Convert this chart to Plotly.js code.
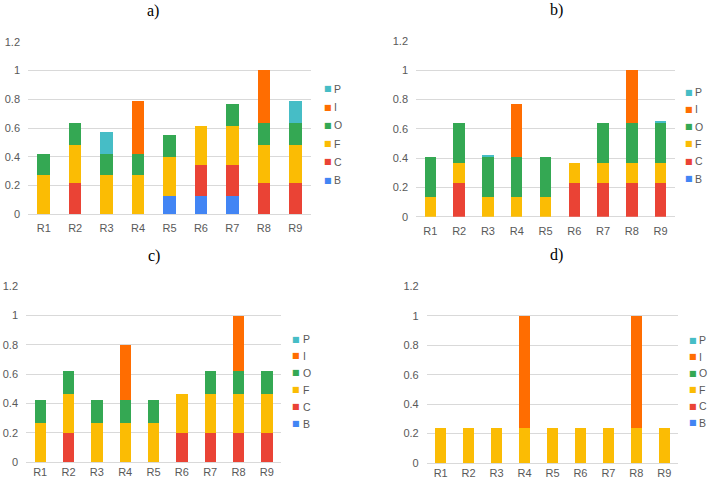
<!DOCTYPE html>
<html>
<head>
<meta charset="utf-8">
<script src="https://cdn.plot.ly/plotly-3.0.1.min.js"></script>
<style>html,body{margin:0;padding:0;background:#fff;}#chart{width:708px;height:481px;}</style>
</head>
<body>
<div id="chart"></div>
<script>
// ---- data ----
const categories = ['R1','R2','R3','R4','R5','R6','R7','R8','R9'];
const seriesNames = ['B','C','F','O','I','P'];
const panelTitles = ['a)','b)','c)','d)'];
const yTickVals = [0,0.2,0.4,0.6,0.8,1,1.2];

// panel a
const a_B = [0,0,0,0,0.13,0.13,0.13,0,0];
const a_C = [0,0.215,0,0,0,0.215,0.215,0.215,0.215];
const a_F = [0.27,0.27,0.27,0.27,0.27,0.27,0.27,0.27,0.27];
const a_O = [0.15,0.15,0.15,0.15,0.15,0,0.15,0.15,0.15];
const a_I = [0,0,0,0.365,0,0,0,0.365,0];
const a_P = [0,0,0.155,0,0,0,0,0,0.155];
// panel b
const b_B = [0,0,0,0,0,0,0,0,0];
const b_C = [0,0.23,0,0,0,0.23,0.23,0.23,0.23];
const b_F = [0.137,0.137,0.137,0.137,0.137,0.137,0.137,0.137,0.137];
const b_O = [0.273,0.273,0.273,0.273,0.273,0,0.273,0.273,0.273];
const b_I = [0,0,0,0.36,0,0,0,0.36,0];
const b_P = [0,0,0.014,0,0,0,0,0,0.014];
// panel c
const c_B = [0,0,0,0,0,0,0,0,0];
const c_C = [0,0.2,0,0,0,0.2,0.2,0.2,0.2];
const c_F = [0.268,0.268,0.268,0.268,0.268,0.268,0.268,0.268,0.268];
const c_O = [0.155,0.155,0.155,0.155,0.155,0,0.155,0.155,0.155];
const c_I = [0,0,0,0.377,0,0,0,0.377,0];
const c_P = [0,0,0,0,0,0,0,0,0];
// panel d
const d_B = [0,0,0,0,0,0,0,0,0];
const d_C = [0,0,0,0,0,0,0,0,0];
const d_F = [0.238,0.238,0.238,0.238,0.238,0.238,0.238,0.238,0.238];
const d_O = [0,0,0,0,0,0,0,0,0];
const d_I = [0,0,0,0.762,0,0,0,0.762,0];
const d_P = [0,0,0,0,0,0,0,0,0];

// ---- styling ----
const seriesColors = {B:'#4285F4', C:'#EA4335', F:'#FBBC04', O:'#34A853', I:'#FF6D01', P:'#46BDC6'};
const W = 708, H = 481;
const px = x => x / W;
const py = y => 1 - y / H;

const panels = [
  {data:{B:a_B,C:a_C,F:a_F,O:a_O,I:a_I,P:a_P}, x0:28, x1:311, yTop:41.7, yBot:214.3, xstand:6,
   title:[152.5,11], leg:{mx:327.5, tx:332, y0:89, y1:180}},
  {data:{B:b_B,C:b_C,F:b_F,O:b_O,I:b_I,P:b_P}, x0:416, x1:675, yTop:41, yBot:216.7, xstand:6,
   title:[556,10], leg:{mx:689, tx:693, y0:92, y1:178.5}},
  {data:{B:c_B,C:c_C,F:c_F,O:c_O,I:c_I,P:c_P}, x0:26, x1:281, yTop:286.3, yBot:462.3, xstand:2,
   title:[154,256], leg:{mx:296, tx:300.5, y0:339, y1:423.7}},
  {data:{B:d_B,C:d_C,F:d_F,O:d_O,I:d_I,P:d_P}, x0:426.7, x1:678.3, yTop:286.3, yBot:463, xstand:2,
   title:[556,255], leg:{mx:692.5, tx:696.5, y0:340, y1:422.5}}
];

const traces = [];
const layout = {
  width: W, height: H,
  margin: {l:0, r:0, t:0, b:0},
  paper_bgcolor: '#ffffff', plot_bgcolor: '#ffffff',
  barmode: 'stack', bargap: 0.6,
  showlegend: false,
  hovermode: false,
  font: {family: 'Liberation Sans, Arial, sans-serif', size: 11, color: '#595959'},
  annotations: []
};

panels.forEach((p, i) => {
  const n = i === 0 ? '' : String(i + 1);
  const xa = 'x' + n, ya = 'y' + n;
  seriesNames.forEach(s => {
    traces.push({
      type: 'bar', name: s, x: categories, y: p.data[s],
      xaxis: xa, yaxis: ya,
      marker: {color: seriesColors[s], line: {width: 0}},
      showlegend: false
    });
  });
  layout['xaxis' + n] = {
    domain: [px(p.x0), px(p.x1)], anchor: ya,
    type: 'category', showgrid: false, zeroline: false, showline: false,
    ticks: '', ticklabelstandoff: p.xstand, tickfont: {size: 11, color: '#595959'},
    fixedrange: true
  };
  layout['yaxis' + n] = {
    domain: [py(p.yBot), py(p.yTop)], anchor: xa,
    range: [0, 1.2], tickvals: yTickVals, ticktext: yTickVals.map(String),
    showgrid: true, gridcolor: '#d9d9d9', gridwidth: 1,
    zeroline: true, zerolinecolor: '#d9d9d9', zerolinewidth: 1,
    showline: false, ticks: '', ticklabelstandoff: 7,
    tickfont: {size: 11, color: '#595959'}, fixedrange: true
  };
  layout.annotations.push({
    xref: 'paper', yref: 'paper', x: px(p.title[0]), y: py(p.title[1]),
    xanchor: 'center', yanchor: 'middle', showarrow: false,
    text: panelTitles[i],
    font: {family: 'Liberation Serif, Times New Roman, serif', size: 16, color: '#000000'}
  });
  // legend (top to bottom: reversed series order)
  const order = seriesNames.slice().reverse();
  const step = (p.leg.y1 - p.leg.y0) / (order.length - 1);
  order.forEach((s, k) => {
    const yy = p.leg.y0 + k * step;
    layout.annotations.push({
      xref: 'paper', yref: 'paper', x: px(p.leg.mx), y: py(yy),
      xanchor: 'center', yanchor: 'middle', showarrow: false,
      text: '■', font: {family: 'DejaVu Sans', size: 8, color: seriesColors[s]}
    });
    layout.annotations.push({
      xref: 'paper', yref: 'paper', x: px(p.leg.tx), y: py(yy),
      xanchor: 'left', yanchor: 'middle', showarrow: false,
      text: s, font: {family: 'Liberation Sans, Arial, sans-serif', size: 10.5, color: '#595959'}
    });
  });
});

Plotly.newPlot('chart', traces, layout, {displayModeBar: false, staticPlot: true});
</script>
</body>
</html>
